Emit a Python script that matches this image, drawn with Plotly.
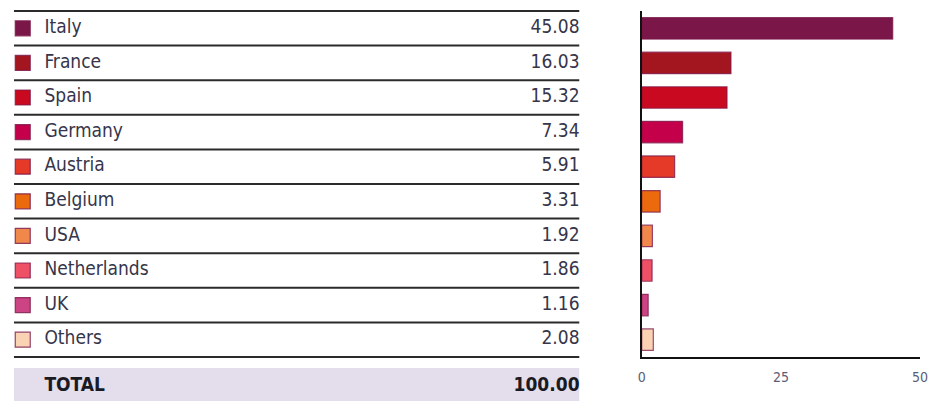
import plotly.graph_objects as go

countries = ["Italy", "France", "Spain", "Germany", "Austria", "Belgium",
             "USA", "Netherlands", "UK", "Others"]
shares = [45.08, 16.03, 15.32, 7.34, 5.91, 3.31, 1.92, 1.86, 1.16, 2.08]
share_labels = ["45.08", "16.03", "15.32", "7.34", "5.91", "3.31",
                "1.92", "1.86", "1.16", "2.08"]
total_label = "TOTAL"
total_value = "100.00"
colors = ["#7B1648", "#A3151F", "#C9091F", "#C4004A", "#E43A27",
          "#EB6A0E", "#F0884B", "#EE5166", "#CC4483", "#FAD3B5"]
x_ticks = [0, 25, 50]

FONT = "DejaVu Sans Condensed, Liberation Sans Narrow, sans-serif"
TXT = "#36354a"
rows = list(range(len(countries)))

fig = go.Figure()

# --- bar chart on the right
fig.add_trace(go.Bar(
    x=shares, y=rows, orientation="h",
    marker=dict(color=colors, line=dict(color="rgba(123,22,72,0.75)", width=1.2)),
    width=0.62, xaxis="x", yaxis="y", showlegend=False, hoverinfo="skip",
))

# --- table on the left
fig.add_trace(go.Scatter(
    x=[0.0157] * len(rows), y=rows, mode="markers",
    marker=dict(symbol="square", size=15, color=colors,
                line=dict(color="rgba(123,22,72,0.8)", width=1.2)),
    xaxis="x2", yaxis="y2", showlegend=False, hoverinfo="skip",
))
fig.add_trace(go.Scatter(
    x=[0.054] * len(rows), y=rows, mode="text", text=countries,
    textposition="middle right", textfont=dict(family=FONT, size=19, color=TXT),
    xaxis="x2", yaxis="y2", showlegend=False, hoverinfo="skip", cliponaxis=False,
))
fig.add_trace(go.Scatter(
    x=[1.0] * len(rows), y=rows, mode="text", text=share_labels,
    textposition="middle left", textfont=dict(family=FONT, size=19, color=TXT),
    xaxis="x2", yaxis="y2", showlegend=False, hoverinfo="skip", cliponaxis=False,
))
fig.add_trace(go.Scatter(
    x=[0.054, 1.0], y=[10.34, 10.34], mode="text",
    text=["<b>" + total_label + "</b>", "<b>" + total_value + "</b>"],
    textposition=["middle right", "middle left"],
    textfont=dict(family=FONT, size=19, color="#1a1a22"),
    xaxis="x2", yaxis="y2", showlegend=False, hoverinfo="skip", cliponaxis=False,
))

shapes = [dict(type="rect", xref="x2", yref="y2", x0=0, x1=1, y0=9.82, y1=10.8,
               fillcolor="#E3DDEC", line=dict(width=0), layer="below")]
for i in range(len(rows) + 1):
    shapes.append(dict(type="line", xref="x2", yref="y2", x0=0, x1=1,
                       y0=i - 0.5, y1=i - 0.5, line=dict(color="#2b2b2b", width=2)))

fig.update_layout(
    width=937, height=401,
    margin=dict(l=0, r=0, t=0, b=0),
    paper_bgcolor="white", plot_bgcolor="white",
    shapes=shapes,
    xaxis=dict(domain=[646 / 937, 928 / 937], range=[0, 50], tickvals=x_ticks,
               showgrid=False, zeroline=False, showline=True, linecolor="#111",
               linewidth=2, ticks="", ticklabelstandoff=6,
               tickfont=dict(family=FONT, size=14, color="#5b5d78"), anchor="y"),
    yaxis=dict(domain=[(401 - 357) / 401, (401 - 11) / 401], range=[9.5, -0.5],
               showgrid=False, zeroline=False, showline=True, linecolor="#111",
               linewidth=2, showticklabels=False, ticks="", anchor="x"),
    xaxis2=dict(domain=[10 / 937, 583 / 937], range=[0, 1], visible=False,
                anchor="y2"),
    yaxis2=dict(domain=[0, 1], range=[-0.5 + (401 - 11) / 34.6, -0.5 - 11 / 34.6],
                visible=False, anchor="x2"),
)

# page body margin off, nothing allowed to overflow the window
fig.write_html("out.html", config={"displayModeBar": False},
               post_script="document.documentElement.style.overflow='hidden';"
                           "document.body.style.margin='0';"
                           "document.body.style.overflow='hidden';"
                           "var gd=document.getElementById('{plot_id}');"
                           "gd.style.overflow='hidden';"
                           "Plotly.relayout(gd,{width:937,height:401});")
